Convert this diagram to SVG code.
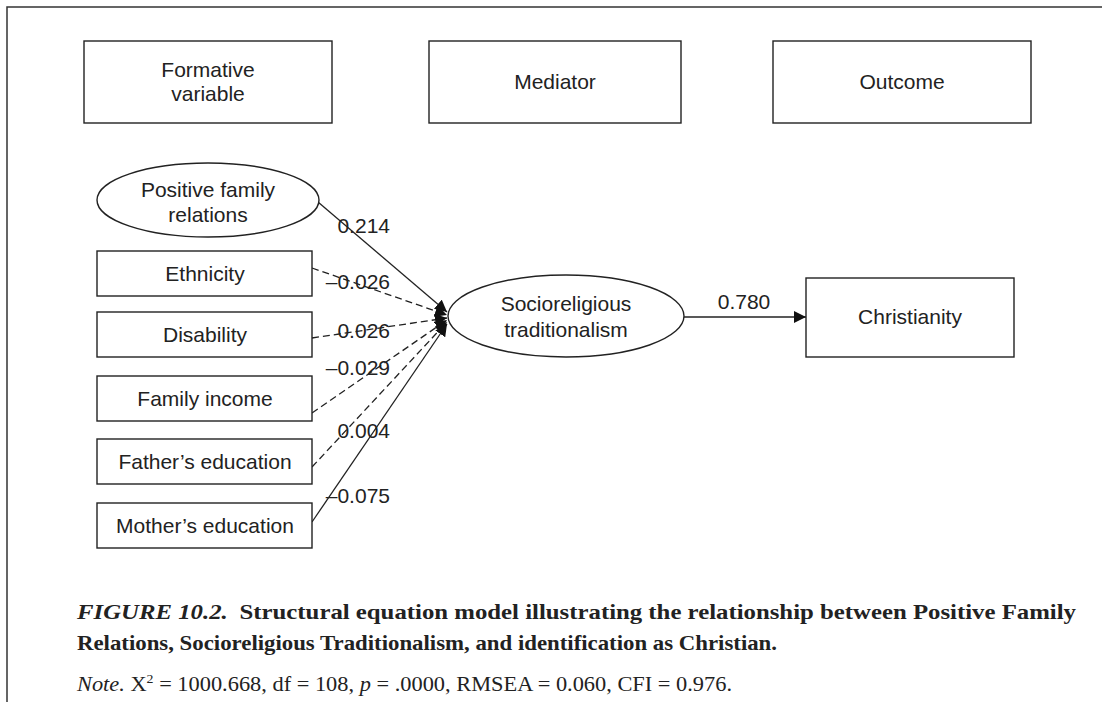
<svg xmlns="http://www.w3.org/2000/svg" width="1102" height="702" viewBox="0 0 1102 702">
<defs>
<style>
.box{fill:#fff;stroke:#222;stroke-width:1.4}
.lbl{font-family:"Liberation Sans",Arial,sans-serif;font-size:21px;fill:#222;text-anchor:middle}
.coef{font-family:"Liberation Sans",Arial,sans-serif;font-size:21px;fill:#222;text-anchor:end}
.solid{stroke:#222;stroke-width:1.3;fill:none}
.dash{stroke:#222;stroke-width:1.3;fill:none;stroke-dasharray:7,4}
.cap{font-family:"Liberation Serif","Times New Roman",serif;font-size:21px;fill:#222}
</style>
<marker id="ah" markerUnits="userSpaceOnUse" markerWidth="12" markerHeight="12" refX="12" refY="6" orient="auto">
<path d="M0,0 L12,6 L0,12 z" fill="#111"/>
</marker>
</defs>
<rect width="1102" height="702" fill="#fff"/>
<path d="M7,702 L7,7 L1102,7" fill="none" stroke="#333" stroke-width="1.5"/>

<g id="header-formative">
<rect class="box" x="84" y="41" width="248" height="82"/>
<text class="lbl" x="208" y="77">Formative</text>
<text class="lbl" x="208" y="101">variable</text>
</g>
<g id="header-mediator">
<rect class="box" x="429" y="41" width="252" height="82"/>
<text class="lbl" x="555" y="89">Mediator</text>
</g>
<g id="header-outcome">
<rect class="box" x="773" y="41" width="258" height="82"/>
<text class="lbl" x="902" y="89">Outcome</text>
</g>

<g id="connectors">
<line class="solid" x1="318" y1="202" x2="447" y2="312" marker-end="url(#ah)"/>
<line class="dash" x1="312" y1="268" x2="447" y2="315" marker-end="url(#ah)"/>
<line class="dash" x1="312" y1="338" x2="447" y2="318" marker-end="url(#ah)"/>
<line class="dash" x1="312" y1="413" x2="447" y2="320" marker-end="url(#ah)"/>
<line class="dash" x1="312" y1="467" x2="447" y2="322" marker-end="url(#ah)"/>
<line class="solid" x1="312" y1="522" x2="447" y2="324" marker-end="url(#ah)"/>
<line class="solid" x1="684" y1="317" x2="806" y2="317" marker-end="url(#ah)"/>
<text class="coef" x="390" y="233">0.214</text>
<text class="coef" x="390" y="289">–0.026</text>
<text class="coef" x="390" y="338">0.026</text>
<text class="coef" x="390" y="375">–0.029</text>
<text class="coef" x="390" y="438">0.004</text>
<text class="coef" x="390" y="503">–0.075</text>
<text class="lbl" x="744" y="309">0.780</text>
</g>

<g id="positive-family-relations">
<ellipse class="box" cx="208" cy="200" rx="111" ry="37"/>
<text class="lbl" x="208" y="197">Positive family</text>
<text class="lbl" x="208" y="222">relations</text>
</g>
<g id="ethnicity">
<rect class="box" x="97" y="251" width="215" height="45"/>
<text class="lbl" x="205" y="281">Ethnicity</text>
</g>
<g id="disability">
<rect class="box" x="97" y="312" width="215" height="45"/>
<text class="lbl" x="205" y="342">Disability</text>
</g>
<g id="family-income">
<rect class="box" x="97" y="376" width="215" height="45"/>
<text class="lbl" x="205" y="406">Family income</text>
</g>
<g id="fathers-education">
<rect class="box" x="97" y="439" width="215" height="45"/>
<text class="lbl" x="205" y="469">Father’s education</text>
</g>
<g id="mothers-education">
<rect class="box" x="97" y="503" width="215" height="45"/>
<text class="lbl" x="205" y="533">Mother’s education</text>
</g>
<g id="socioreligious-traditionalism">
<ellipse class="box" cx="566" cy="316" rx="118" ry="41"/>
<text class="lbl" x="566" y="311">Socioreligious</text>
<text class="lbl" x="566" y="337">traditionalism</text>
</g>
<g id="christianity">
<rect class="box" x="806" y="278" width="208" height="79"/>
<text class="lbl" x="910" y="324">Christianity</text>
</g>

<g id="caption">
<text class="cap" x="77" y="619" font-weight="bold" textLength="999" lengthAdjust="spacingAndGlyphs"><tspan font-style="italic">FIGURE 10.2.</tspan><tspan dx="10">Structural equation model illustrating the relationship between Positive Family</tspan></text>
<text class="cap" x="77" y="650" font-weight="bold" textLength="700" lengthAdjust="spacingAndGlyphs">Relations, Socioreligious Traditionalism, and identification as Christian.</text>
<text class="cap" x="77" y="691" textLength="655" lengthAdjust="spacingAndGlyphs"><tspan font-style="italic">Note.</tspan> X<tspan font-size="13" dy="-8">2</tspan><tspan dy="8"> = 1000.668, df = 108, </tspan><tspan font-style="italic">p</tspan> = .0000, RMSEA = 0.060, CFI = 0.976.</text>
</g>
</svg>
